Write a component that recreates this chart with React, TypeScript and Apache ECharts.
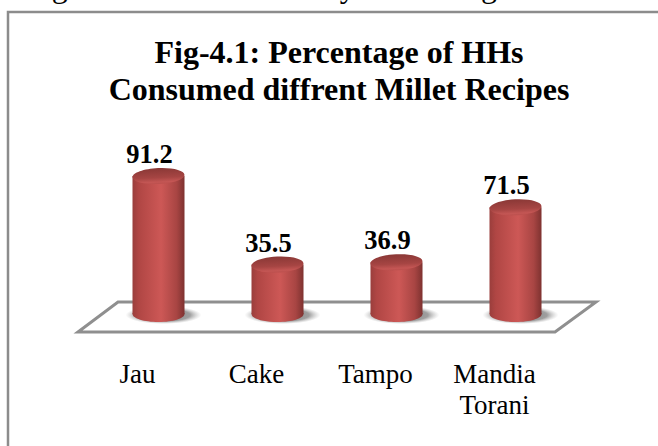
import React, { useEffect, useRef } from "react";
import * as echarts from "echarts";

const categories = ["Jau", "Cake", "Tampo", "Mandia\nTorani"];
const values = [91.2, 35.5, 36.9, 71.5];
const titleLines = "Fig-4.1: Percentage of HHs\nConsumed diffrent Millet Recipes";
const clippedLine = "ming millets in several ways including in forms of";

const SERIF = '"Liberation Serif", serif';
const linear = (x2: number, y2: number, stops: [number, string][]) => ({
  type: "linear", x: 0, y: 0, x2, y2,
  colorStops: stops.map(([offset, color]) => ({ offset, color })),
});
const bodyFill = linear(1, 0, [
  [0, "#9a3e3c"], [0.12, "#b04644"], [0.55, "#cd5856"], [0.85, "#a84543"], [1, "#7e3230"],
]);
const topFill = linear(0, 1, [
  [0, "#8a3836"], [0.6, "#a64543"], [0.88, "#c45654"], [1, "#bb4f4d"],
]);

export default function App() {
  const ref = useRef<HTMLDivElement>(null);
  useEffect(() => {
    const chart = echarts.init(ref.current!, undefined, { renderer: "svg" });
    chart.setOption({
      animation: false,
      backgroundColor: "#ffffff",
      grid: { left: 78, width: 476, top: 162, height: 159 },
      xAxis: {
        type: "category",
        data: categories,
        axisLine: { show: false },
        axisTick: { show: false },
        axisLabel: {
          margin: 37.5,
          interval: 0,
          fontFamily: SERIF,
          fontSize: 27,
          lineHeight: 31,
          color: "#000000",
          verticalAlign: "top",
        },
      },
      yAxis: { type: "value", min: 0, max: 100, show: false },
      graphic: [
        {
          type: "text", z: 5, x: 2, y: 2,
          style: { text: clippedLine, font: `32px ${SERIF}`, fill: "#000", verticalAlign: "bottom" },
        },
        {
          type: "polyline", z: 1,
          shape: { points: [[8, 450], [8, 12], [660, 12]] },
          style: { stroke: "#8c8c8c", lineWidth: 2.5, fill: "none" },
        },
        {
          type: "polygon", z: 1,
          shape: { points: [[78, 332], [118, 302], [596, 302], [555, 332]] },
          style: { stroke: "#8f8f8f", lineWidth: 3, fill: "#ffffff" },
        },
        {
          type: "text", z: 5, x: 339, y: 70,
          style: {
            text: titleLines, font: `bold 32px ${SERIF}`, fill: "#000", lineHeight: 37,
            align: "center", verticalAlign: "middle",
          },
        },
      ],
      series: [
        {
          type: "custom",
          coordinateSystem: "cartesian2d",
          data: values.map((v, i) => [i, v]),
          encode: { x: 0, y: 1 },
          z: 3,
          renderItem: (_p: any, api: any) => {
            const [axisX, yTop] = api.coord([api.value(0), api.value(1)]);
            const cx = axisX + 21;
            const yBase = api.coord([api.value(0), 0])[1] - 7;
            const rx = 26;
            const ry = 8;
            return {
              type: "group",
              children: [
                {
                  type: "ellipse",
                  shape: { cx: cx + 5, cy: yBase + 1, rx: 38, ry: 9 },
                  style: {
                    fill: {
                      type: "radial", x: 0.5, y: 0.5, r: 0.5,
                      colorStops: [
                        { offset: 0, color: "rgba(70,70,70,0.7)" },
                        { offset: 0.7, color: "rgba(80,80,80,0.55)" },
                        { offset: 1, color: "rgba(150,150,150,0)" },
                      ],
                    },
                  },
                },
                { type: "ellipse", shape: { cx, cy: yBase, rx, ry }, style: { fill: bodyFill } },
                {
                  type: "rect",
                  shape: { x: cx - rx, y: yTop, width: rx * 2, height: yBase - yTop },
                  style: { fill: bodyFill },
                },
                {
                  type: "ellipse", x: cx, y: yTop, rotation: 0.05,
                  shape: { cx: 0, cy: 0, rx, ry },
                  style: { fill: topFill },
                },
                {
                  type: "text", x: cx - 9, y: yTop - 22,
                  style: {
                    text: String(api.value(1)), font: `bold 26.5px ${SERIF}`, fill: "#000",
                    align: "center", verticalAlign: "middle",
                  },
                },
              ],
            };
          },
        },
      ],
    });
    return () => chart.dispose();
  }, []);
  return (
    <div
      ref={ref}
      style={{ width: 658, height: 446, position: "fixed", left: 0, top: 0 }}
    />
  );
}
